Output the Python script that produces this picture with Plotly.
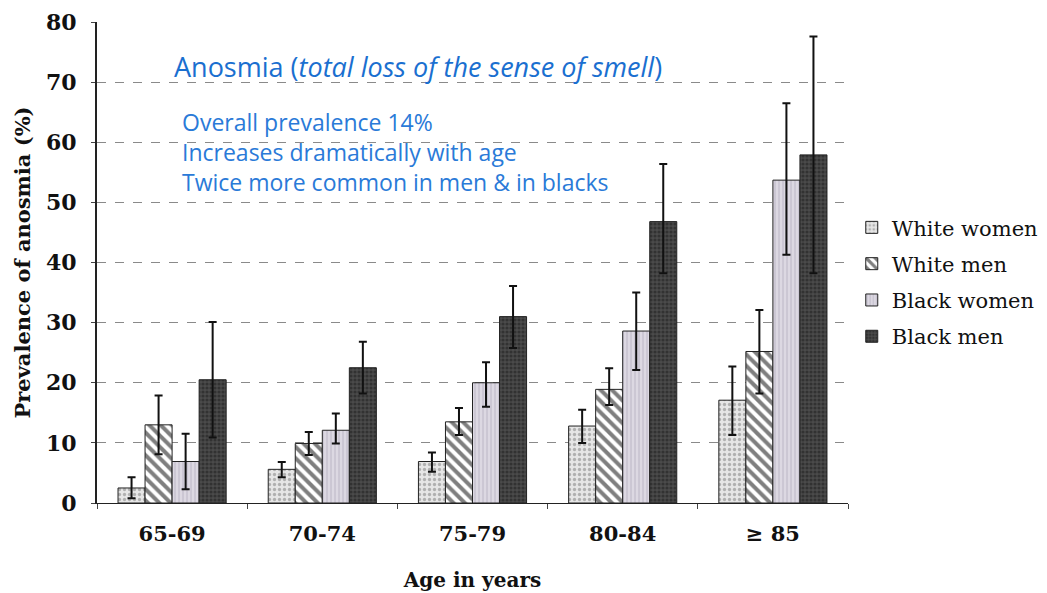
import plotly.graph_objects as go

ages = ["65-69", "70-74", "75-79", "80-84", "\u2265 85"]
series = ["White women", "White men", "Black women", "Black men"]

white_women = [2.5, 5.6, 6.9, 12.8, 17.1]
white_women_hi = [4.3, 6.8, 8.4, 15.5, 22.7]
white_women_lo = [0.8, 4.3, 5.2, 10.0, 11.3]

white_men = [13.0, 9.9, 13.5, 18.9, 25.2]
white_men_hi = [17.9, 11.8, 15.8, 22.4, 32.1]
white_men_lo = [8.1, 8.0, 11.3, 16.3, 18.2]

black_women = [6.9, 12.1, 20.0, 28.6, 53.7]
black_women_hi = [11.5, 14.9, 23.4, 35.0, 66.5]
black_women_lo = [2.3, 9.9, 16.0, 22.1, 41.3]

black_men = [20.5, 22.5, 31.0, 46.8, 57.9]
black_men_hi = [30.1, 26.8, 36.1, 56.4, 77.6]
black_men_lo = [10.9, 18.2, 25.8, 38.2, 38.2]

values = [white_women, white_men, black_women, black_men]
highs = [white_women_hi, white_men_hi, black_women_hi, black_men_hi]
lows = [white_women_lo, white_men_lo, black_women_lo, black_men_lo]

patterns = [
    dict(shape=".", fgcolor="#7a7a7a", bgcolor="#e6e6e6", size=5, solidity=0.35),
    dict(shape="\\", fgcolor="#000000", bgcolor="#ffffff", size=8, solidity=0.5),
    dict(shape="|", fgcolor="#b3acbd", bgcolor="#dcd8e2", size=4, solidity=0.4),
    dict(shape=".", fgcolor="#1a1a1a", bgcolor="#4a4a4a", size=4, solidity=0.5),
]

fig = go.Figure()
for name, v, hi, lo, pat in zip(series, values, highs, lows, patterns):
    fig.add_trace(go.Bar(
        name=name, x=ages, y=v, legendgroup=name,
        marker=dict(pattern=pat, line=dict(color="#222222", width=1)),
        error_y=dict(type="data", symmetric=False,
                     array=[h - x for h, x in zip(hi, v)],
                     arrayminus=[x - l for l, x in zip(lo, v)],
                     color="#111111", thickness=2, width=4),
    ))

serif = "DejaVu Serif"
fig.update_layout(
    width=1047, height=593,
    margin=dict(l=89, r=207, t=14, b=98, autoexpand=False),
    paper_bgcolor="white", plot_bgcolor="white",
    barmode="group", bargap=0.28, bargroupgap=0,
    font=dict(family=serif, color="#111111", size=20),
    legend=dict(x=1.005, y=0.459, yanchor="middle", xanchor="left",
                font=dict(family=serif, size=21, color="#111111"),
                itemwidth=30, tracegroupgap=6, bgcolor="rgba(0,0,0,0)"),
    xaxis=dict(
        automargin=False,
        title=dict(text="<b>Age in years</b>", font=dict(family=serif, size=20), standoff=27),
        tickfont=dict(family=serif, size=21), ticklabelstandoff=12,
        showline=True, linecolor="#222222", linewidth=1,
        ticks="outside", tickson="boundaries", ticklen=5, tickcolor="#444",
        tickprefix="<b>", ticksuffix="</b>",
    ),
    yaxis=dict(
        automargin=False,
        title=dict(text="<b>Prevalence of anosmia (%)</b>", font=dict(family=serif, size=21), standoff=10),
        range=[0, 80], dtick=10, tickfont=dict(family=serif, size=22),
        tickprefix="<b>", ticksuffix="</b>",
        showline=True, linecolor="#222222", linewidth=2,
        ticks="outside", ticklen=4, tickcolor="#444", ticklabelstandoff=10,
        showgrid=True, gridcolor="#8a8a8a", gridwidth=1, griddash="dash",
        zeroline=False,
    ),
)

fig.add_annotation(xref="paper", yref="paper", x=(172 - 97) / 751, y=(503 - 67) / 481,
                   xanchor="left", yanchor="middle", showarrow=False,
                   text="Anosmia (<i>total loss of the sense of smell</i>)",
                   font=dict(family="Open Sans", size=27, color="#1a6fd0"))
lines = ["Overall prevalence 14%", "Increases dramatically with age",
         "Twice more common in men &amp; in blacks"]
fig.add_annotation(xref="paper", yref="paper", x=(180 - 97) / 751, y=(503 - 152) / 481,
                   xanchor="left", yanchor="middle", align="left", showarrow=False,
                   text="<br>".join(lines),
                   font=dict(family="Open Sans", size=23, color="#2a7ad8"))

fig.write_html("out.html")
